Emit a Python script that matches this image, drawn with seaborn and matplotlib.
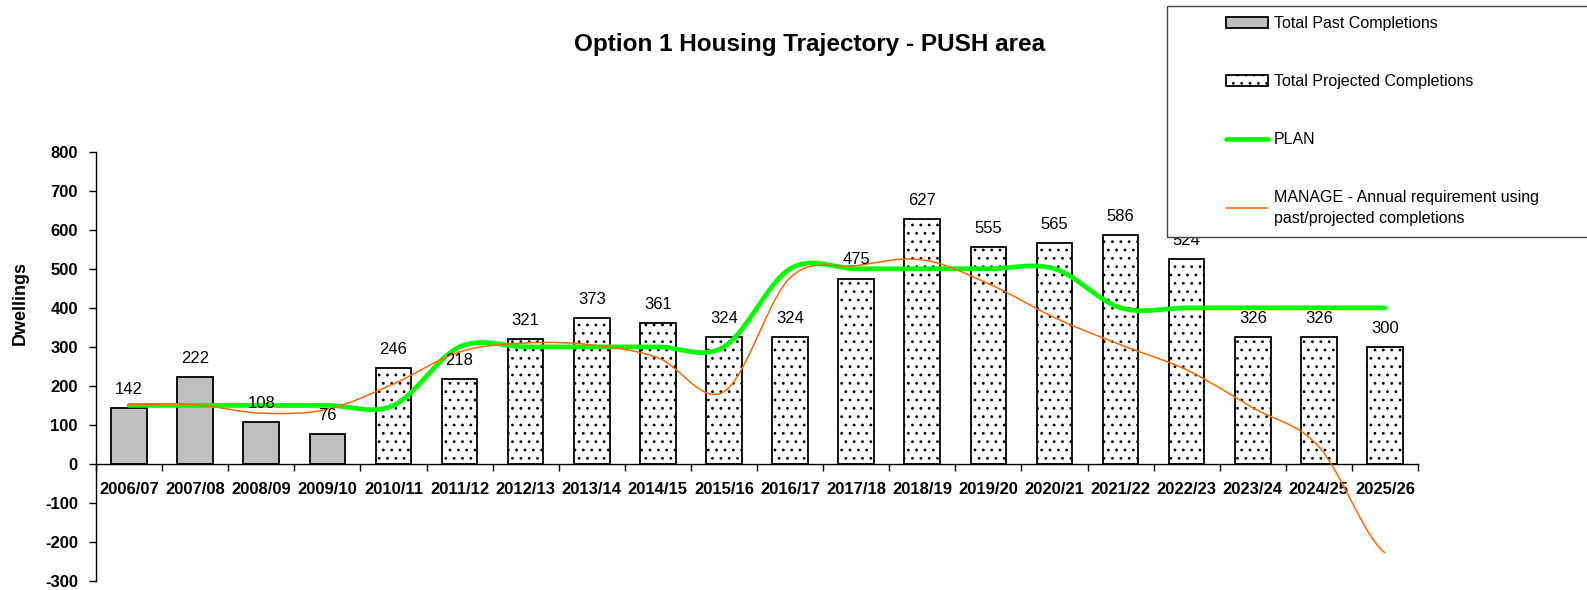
import numpy as np
import pandas as pd
import matplotlib
matplotlib.use("Agg")
import matplotlib.pyplot as plt
from matplotlib.patches import Rectangle
import seaborn as sns

# ---- data ----
years = ["2006/07", "2007/08", "2008/09", "2009/10", "2010/11", "2011/12",
         "2012/13", "2013/14", "2014/15", "2015/16", "2016/17", "2017/18",
         "2018/19", "2019/20", "2020/21", "2021/22", "2022/23", "2023/24",
         "2024/25", "2025/26"]
completions = [142, 222, 108, 76, 246, 218, 321, 373, 361, 324,
               324, 475, 627, 555, 565, 586, 524, 326, 326, 300]
kind = ["Total Past Completions"] * 4 + ["Total Projected Completions"] * 16
plan = [150, 150, 150, 150, 150, 300, 300, 300, 300, 300,
        500, 500, 500, 500, 500, 400, 400, 400, 400, 400]
manage = [152, 152, 130, 140, 205, 287, 310, 305, 272, 185,
          477, 508, 523, 462, 375, 305, 241, 144, 44, -228]
y_ticks = list(range(-300, 801, 100))

W, H = 1587, 590


def smooth_line(values, steps=40):
    """Excel-style smoothed line (uniform Catmull-Rom through the points)."""
    v = np.asarray(values, dtype=float)
    p = np.concatenate([[v[0]], v, [v[-1]]])
    xs, ys = [], []
    t = np.linspace(0, 1, steps, endpoint=False)
    for i in range(len(v) - 1):
        p0, p1, p2, p3 = p[i], p[i + 1], p[i + 2], p[i + 3]
        seg = 0.5 * ((2 * p1) + (-p0 + p2) * t
                     + (2 * p0 - 5 * p1 + 4 * p2 - p3) * t ** 2
                     + (-p0 + 3 * p1 - 3 * p2 + p3) * t ** 3)
        xs.extend(i + t)
        ys.extend(seg)
    xs.append(len(v) - 1)
    ys.append(v[-1])
    return np.array(xs), np.array(ys)


df = pd.DataFrame({"year": years, "dwellings": completions, "kind": kind})

sns.set_theme(style="white")
plt.rcParams["font.family"] = ["Liberation Sans", "DejaVu Sans"]
plt.rcParams["hatch.linewidth"] = 0.8
for key in ["text.color", "axes.labelcolor", "xtick.color", "ytick.color"]:
    plt.rcParams[key] = "black"

fig = plt.figure(figsize=(W / 100, H / 100), dpi=100)
ax = fig.add_axes([96 / W, 1 - 581 / H, (1418 - 96) / W, (581 - 151.7) / H])

sns.barplot(data=df, x="year", y="dwellings", hue="kind", order=years,
            palette={"Total Past Completions": "#c0c0c0",
                     "Total Projected Completions": "white"},
            dodge=False, width=0.54, edgecolor="black", linewidth=1.3,
            saturation=1, legend=False, ax=ax)

past_bars, proj_bars = ax.containers[0], ax.containers[1]
for patch in proj_bars:
    patch.set_hatch("..")

# data labels above the bars
for i, val in enumerate(completions):
    ax.annotate(str(val), (i, val), xytext=(0, 8), textcoords="offset points",
                ha="center", va="bottom", fontsize=12, color="black", zorder=6)

px, py = smooth_line(plan)
sns.lineplot(x=px, y=py, color="#00ff00", linewidth=3.4, ax=ax,
             sort=False, zorder=4)
mx, my = smooth_line(manage)
sns.lineplot(x=mx, y=my, color="#ff6600", linewidth=1.1, ax=ax,
             sort=False, zorder=5)
plan_line, manage_line = ax.get_lines()[-2], ax.get_lines()[-1]

# axes styling: y axis on the left, x axis crossing at zero
ax.set_xlim(-0.5, len(years) - 0.5)
ax.set_ylim(-300, 800)
ax.set_yticks(y_ticks)
ax.set_yticklabels([str(v) for v in y_ticks], fontsize=12, fontweight="bold")
for side in ["top", "right"]:
    ax.spines[side].set_visible(False)
ax.spines["bottom"].set_position(("data", 0))
for side in ["left", "bottom"]:
    ax.spines[side].set_color("black")
    ax.spines[side].set_linewidth(1.0)

ax.set_xticks(np.arange(-0.5, len(years), 1.0))
ax.set_xticklabels([])
ax.set_xticks(np.arange(len(years)), minor=True)
ax.set_xticklabels(years, minor=True, fontsize=12, fontweight="bold")
ax.tick_params(axis="x", which="major", direction="out", length=5,
               width=1, color="black", bottom=True)
ax.tick_params(axis="x", which="minor", length=0, pad=13, bottom=True)
ax.tick_params(axis="y", direction="out", length=5, width=1,
               color="black", pad=8, left=True)
ax.set_xlabel("")
ax.set_ylabel("")
ax.grid(False)

fig.text(20 / W, 1 - 303 / H, "Dwellings", rotation=90, ha="center",
         va="center", fontsize=13, fontweight="bold")
fig.text(810 / W, 1 - 44 / H, "Option 1 Housing Trajectory - PUSH area",
         ha="center", va="center", fontsize=17.5, fontweight="bold")

# legend box hanging off the right edge, drawn over the chart
fig.add_artist(Rectangle((1167 / W, 1 - 237 / H), (W - 1167 + 20) / W,
                         (237 - 6) / H, transform=fig.transFigure,
                         facecolor="white", edgecolor="#444444",
                         linewidth=1.0, zorder=10))
leg = fig.legend([past_bars, proj_bars, plan_line, manage_line],
                 ["Total Past Completions", "Total Projected Completions",
                  "PLAN", "MANAGE - Annual requirement using\npast/projected completions"],
                 loc="upper left", bbox_to_anchor=(1226 / W, 1 - 16 / H),
                 frameon=False, fontsize=11.5, borderpad=0, borderaxespad=0,
                 handlelength=2.6, handletextpad=0.4, labelspacing=2.7)
for txt in leg.get_texts():
    txt.set_linespacing(1.45)
leg.set_zorder(11)

fig.savefig("out.png", dpi=100, facecolor="white")
